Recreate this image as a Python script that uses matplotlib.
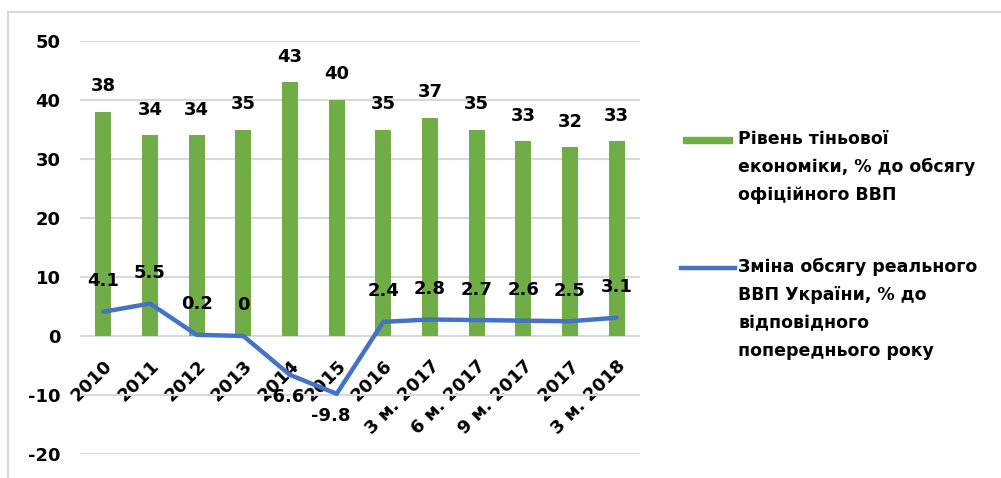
import matplotlib
matplotlib.use("Agg")
import matplotlib.pyplot as plt
from matplotlib.lines import Line2D
from matplotlib.patches import Rectangle
import numpy as np

# --- data ---
categories = ["2010", "2011", "2012", "2013", "2014", "2015", "2016",
              "3 м. 2017", "6 м. 2017", "9 м. 2017", "2017", "3 м. 2018"]
shadow_economy = [38, 34, 34, 35, 43, 40, 35, 37, 35, 33, 32, 33]
gdp_change = [4.1, 5.5, 0.2, 0, -6.6, -9.8, 2.4, 2.8, 2.7, 2.6, 2.5, 3.1]
gdp_labels = ["4.1", "5.5", "0.2", "0", "-6.6", "-9.8", "2.4", "2.8", "2.7", "2.6", "2.5", "3.1"]
legend_bar = "Рівень тіньової\nекономіки, % до обсягу\nофіційного ВВП"
legend_line = "Зміна обсягу реального\nВВП України, % до\nвідповідного\nпопереднього року"

GREEN = "#70AD47"
BLUE = "#4472C4"
GRID = "#D9D9D9"
plt.rcParams['font.family'] = ['DejaVu Sans']
plt.rcParams['font.weight'] = 'bold'
plt.rcParams['axes.unicode_minus'] = False

fig = plt.figure(figsize=(10.01, 4.78), dpi=100)
W, H = 1001, 478
ax = fig.add_axes([80 / W, 1 - 454 / H, 560 / W, 413 / H])

x = np.arange(len(categories))

ax.bar(x, shadow_economy, width=0.34, color=GREEN, zorder=2)
ax.plot(x, gdp_change, color=BLUE, linewidth=3.2, zorder=3, solid_capstyle='round')

# --- data labels ---
for xi, v in zip(x, shadow_economy):
    ax.annotate(str(v), (xi, v), xytext=(0, 18.5), textcoords='offset points',
                ha='center', va='center', fontsize=13, fontweight='bold', zorder=4)
for xi, v, lab in zip(x, gdp_change, gdp_labels):
    off = (0, 22) if v >= 0 else (-4, -16)
    ax.annotate(lab, (xi, v), xytext=off, textcoords='offset points',
                ha='center', va='center', fontsize=13, fontweight='bold', zorder=4)

# --- axes ---
ax.set_xlim(-0.5, len(categories) - 0.5)
ax.set_ylim(-20, 50)
ax.set_yticks(range(-20, 51, 10))
ax.grid(axis='y', color=GRID, linewidth=1.5, zorder=1)
ax.set_axisbelow(True)
for s in ['top', 'right', 'left']:
    ax.spines[s].set_visible(False)
ax.spines['bottom'].set_position(('data', 0))
ax.spines['bottom'].set_visible(False)
ax.set_xticks(x)
ax.set_xticklabels(categories, rotation=45, ha='right', rotation_mode='anchor')
ax.tick_params(axis='x', length=0, pad=15, labelsize=13)
ax.tick_params(axis='y', length=0, pad=14, labelsize=13)

# --- legend drawn on the figure ---
fig.add_artist(Rectangle((683 / W, 1 - 143 / H), 49 / W, 6 / H, transform=fig.transFigure,
                         color=GREEN))
fig.add_artist(Line2D([681 / W, 735 / W], [1 - 268 / H, 1 - 268 / H], transform=fig.transFigure,
                      color=BLUE, linewidth=3.2))
fig.text(738 / W, 1 - 130 / H, legend_bar, fontsize=12.5, fontweight='bold', va='top',
         linespacing=1.72)
fig.text(738 / W, 1 - 258 / H, legend_line, fontsize=12.5, fontweight='bold', va='top',
         linespacing=1.72)

# --- outer frame ---
fig.add_artist(Line2D([8 / W, 1], [1 - 12 / H, 1 - 12 / H], transform=fig.transFigure,
                      color=GRID, linewidth=1.5))
fig.add_artist(Line2D([8 / W, 8 / W], [0, 1 - 12 / H], transform=fig.transFigure,
                      color=GRID, linewidth=1.5))

fig.savefig("out.png", dpi=100)
